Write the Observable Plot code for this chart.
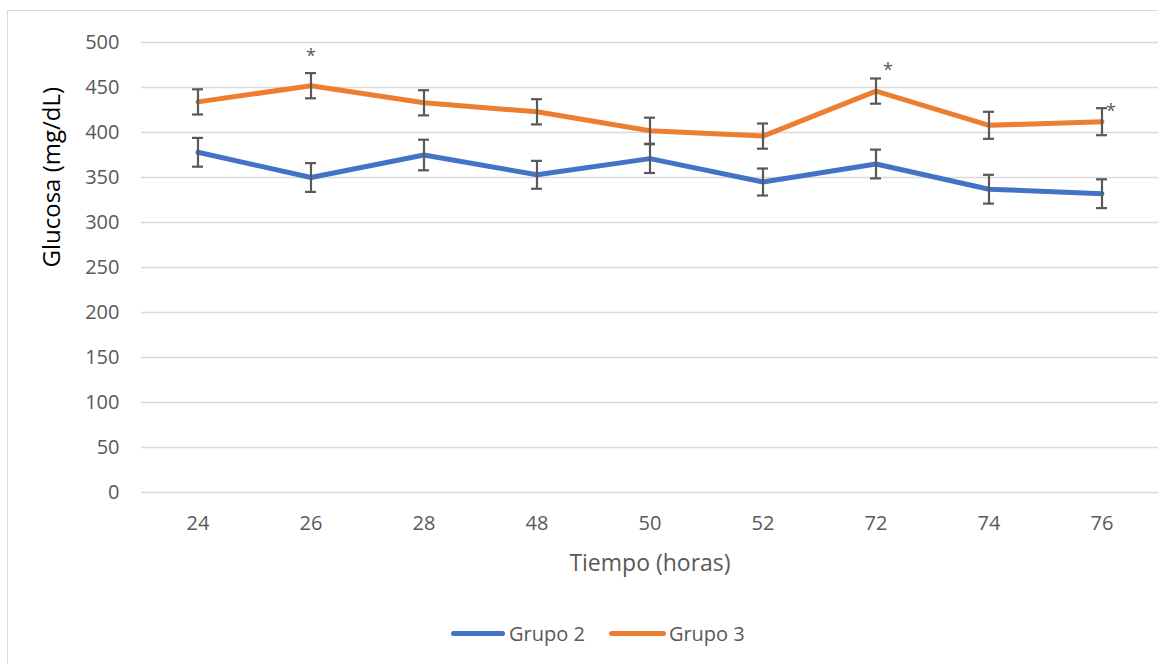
<!DOCTYPE html>
<html>
<head>
<meta charset="utf-8">
<script src="https://cdn.jsdelivr.net/npm/d3@7"></script>
<script src="https://cdn.jsdelivr.net/npm/@observablehq/plot@0.6"></script>
<style>
  html, body { margin: 0; padding: 0; background: #fff; overflow: hidden; }
  body { width: 1158px; height: 664px; position: relative; font-family: "Open Sans", sans-serif; }
  #frame { position: absolute; left: 7px; top: 10px; width: 1200px; height: 700px; border: 1.5px solid #d9d9d9; box-sizing: border-box; }
  #chart { position: absolute; left: 0; top: 0; }
  #legend { position: absolute; left: 451px; top: 621px; height: 24px; display: flex; align-items: center; font-size: 20px; color: #595959; }
  .sw { display: inline-block; height: 5px; border-radius: 3px; }
</style>
</head>
<body>
<div id="frame"></div>
<div id="chart"></div>
<div id="legend">
  <span class="sw" style="width:54px;background:#4472C4"></span>
  <span style="margin-left:4px">Grupo 2</span>
  <span class="sw" style="width:57px;background:#ED7D31;margin-left:24px"></span>
  <span style="margin-left:3px">Grupo 3</span>
</div>
<script>
const times = ["24", "26", "28", "48", "50", "52", "72", "74", "76"];
const grupo2 = [378, 350, 375, 353, 371, 345, 365, 337, 332];
const grupo2Err = [16, 16, 17, 15.5, 16, 15, 16, 16, 16];
const grupo3 = [434, 452, 433, 423, 402, 396, 446, 408, 412];
const grupo3Err = [14, 14, 14, 14, 14.5, 14, 14, 15, 15];
const seriesNames = ["Grupo 2", "Grupo 3"];
const seriesColors = ["#4472C4", "#ED7D31"];
const yTicks = [0, 50, 100, 150, 200, 250, 300, 350, 400, 450, 500];
const sigTimes = ["26", "72", "76"];

const rows = [
  ...times.map((t, i) => ({t, v: grupo2[i], e: grupo2Err[i], g: seriesNames[0]})),
  ...times.map((t, i) => ({t, v: grupo3[i], e: grupo3Err[i], g: seriesNames[1]}))
];
const g3rows = rows.filter(d => d.g === seriesNames[1]);
const star = (t) => g3rows.filter(d => d.t === t);

const plot = Plot.plot({
  width: 1158,
  height: 600,
  marginTop: 42,
  marginBottom: 108,
  marginLeft: 141,
  marginRight: 0,
  style: {fontFamily: "Open Sans, sans-serif", fontSize: "20px", background: "transparent", color: "#595959"},
  x: {domain: times, padding: 0, label: null},
  y: {domain: [0, 500], label: null},
  color: {domain: seriesNames, range: seriesColors},
  marks: [
    Plot.ruleY(yTicks, {stroke: "#d9d9d9", strokeWidth: 1.5}),
    Plot.axisY({ticks: yTicks, tickSize: 0, tickPadding: 22, label: null, fill: "#595959"}),
    Plot.axisX({tickSize: 0, tickPadding: 23, label: null, fill: "#595959"}),
    Plot.line(rows, {x: "t", y: "v", z: "g", stroke: "g", strokeWidth: 5, strokeLinejoin: "round", strokeLinecap: "round"}),
    Plot.ruleX(rows, {x: "t", y1: d => d.v - d.e, y2: d => d.v + d.e, stroke: "#595959", strokeWidth: 2.2}),
    Plot.tickY(rows, {x: "t", y: d => d.v + d.e, stroke: "#595959", strokeWidth: 2.2, insetLeft: 51, insetRight: 51}),
    Plot.tickY(rows, {x: "t", y: d => d.v - d.e, stroke: "#595959", strokeWidth: 2.2, insetLeft: 51, insetRight: 51}),
    Plot.text(star(sigTimes[0]), {x: "t", y: d => d.v + d.e, text: () => "*", fontSize: 18, fill: "#595959", dx: 0, dy: -17}),
    Plot.text(star(sigTimes[1]), {x: "t", y: d => d.v + d.e, text: () => "*", fontSize: 18, fill: "#595959", dx: 12, dy: -8}),
    Plot.text(star(sigTimes[2]), {x: "t", y: d => d.v + d.e, text: () => "*", fontSize: 18, fill: "#595959", dx: 9, dy: 3}),
    Plot.text(["Glucosa (mg/dL)"], {frameAnchor: "left", rotate: -90, dx: -89, fontSize: 24, fill: "#000000", lineAnchor: "middle"}),
    Plot.text(["Tiempo (horas)"], {frameAnchor: "bottom", dy: 71, fontSize: 23, fill: "#595959", lineAnchor: "middle"})
  ]
});
document.getElementById("chart").appendChild(plot);
</script>
</body>
</html>
